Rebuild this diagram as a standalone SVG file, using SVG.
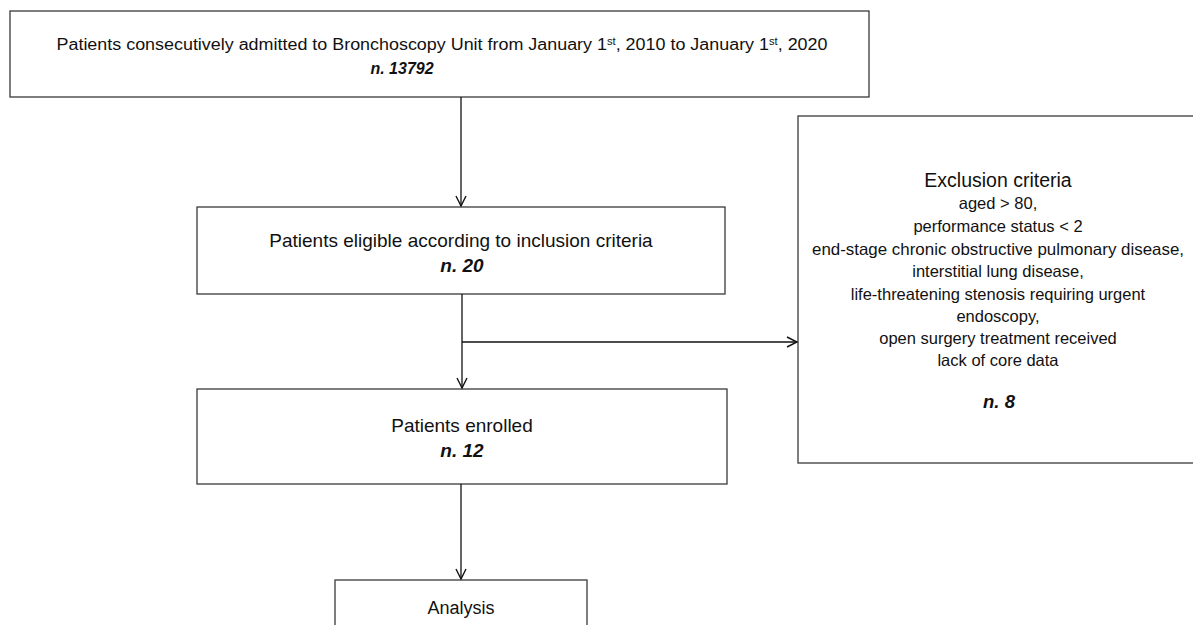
<svg xmlns="http://www.w3.org/2000/svg" width="1193" height="625" viewBox="0 0 1193 625">
<defs>
<style>
.box{fill:#fff;stroke:#3a3a3a;stroke-width:1.3}
.t{font-family:"Liberation Sans",Arial,sans-serif;font-size:16px;fill:#111;text-anchor:middle}
.m{font-size:19px}
.e{font-size:16.5px}
.b{font-weight:bold;font-style:italic}
.sup{font-size:10px}
.c{fill:none;stroke:#111;stroke-width:1.3}
</style>
<marker id="ah" markerWidth="14" markerHeight="14" refX="11" refY="6" orient="auto" markerUnits="userSpaceOnUse">
<path d="M1,1 L11,6 L1,11" fill="none" stroke="#111" stroke-width="1.4"/>
</marker>
</defs>
<rect width="1193" height="625" fill="#fff"/>
<g id="n1">
<rect class="box" x="10" y="11" width="859" height="86"/>
<text class="t" x="442" y="50" textLength="771" lengthAdjust="spacingAndGlyphs">Patients consecutively admitted to Bronchoscopy Unit from January 1<tspan class="sup" baseline-shift="super">st</tspan>, 2010 to January 1<tspan class="sup" baseline-shift="super">st</tspan>, 2020</text>
<text class="t b" x="402" y="74">n. 13792</text>
</g>
<g id="n2">
<rect class="box" x="197" y="207" width="528" height="87"/>
<text class="t m" x="461" y="247">Patients eligible according to inclusion criteria</text>
<text class="t m b" x="462" y="272">n. 20</text>
</g>
<g id="n3">
<rect class="box" x="197" y="389" width="530" height="95"/>
<text class="t m" x="462" y="432">Patients enrolled</text>
<text class="t m b" x="462" y="457">n. 12</text>
</g>
<g id="n4">
<rect class="box" x="798" y="116" width="400" height="347"/>
<text class="t" x="998" y="187" style="font-size:19.5px">Exclusion criteria</text>
<text class="t e" x="998" y="209">aged &gt; 80,</text>
<text class="t e" x="998" y="232">performance status &lt; 2</text>
<text class="t e" x="998" y="255" textLength="372" lengthAdjust="spacingAndGlyphs">end-stage chronic obstructive pulmonary disease,</text>
<text class="t e" x="998" y="277">interstitial lung disease,</text>
<text class="t e" x="998" y="300">life-threatening stenosis requiring urgent</text>
<text class="t e" x="998" y="322">endoscopy,</text>
<text class="t e" x="998" y="344">open surgery treatment received</text>
<text class="t e" x="998" y="366">lack of core data</text>
<text class="t b" x="999" y="408" style="font-size:18.5px">n. 8</text>
</g>
<g id="n5">
<rect class="box" x="335" y="580" width="252" height="60"/>
<text class="t" x="461" y="614" style="font-size:18px">Analysis</text>
</g>
<g id="connectors">
<line class="c" x1="461" y1="97" x2="461" y2="206" marker-end="url(#ah)"/>
<line class="c" x1="462" y1="294" x2="462" y2="388" marker-end="url(#ah)"/>
<line class="c" x1="462" y1="342" x2="797" y2="342" marker-end="url(#ah)"/>
<line class="c" x1="461" y1="484" x2="461" y2="579" marker-end="url(#ah)"/>
</g>
</svg>
